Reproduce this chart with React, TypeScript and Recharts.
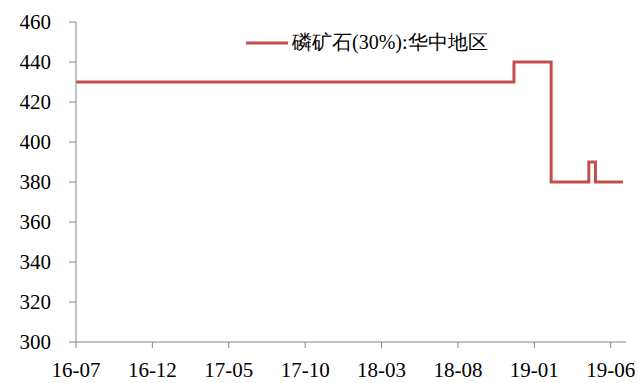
import React from "react"
import { LineChart, Line, XAxis, YAxis, Legend } from "recharts"

// step change dates and price (元/吨)
const changeDates = ["2016-07-01", "2018-11-21", "2019-02-04", "2019-04-18", "2019-05-01", "2019-06-25"]
const prices = [430, 440, 380, 390, 380, 380]

const xTickLabels = ["16-07", "16-12", "17-05", "17-10", "18-03", "18-08", "19-01", "19-06"]
const yTicks = [300, 320, 340, 360, 380, 400, 420, 440, 460]

const seriesName = "磷矿石(30%):华中地区"

// months since 2016-07
function monthIndex(d: string) {
  const [y, m, day] = d.split("-").map(Number)
  return (y - 2016) * 12 + (m - 7) + (day - 1) / 30
}
function labelIndex(l: string) {
  const [yy, mm] = l.split("-").map(Number)
  return (yy - 16) * 12 + (mm - 7)
}

const data = changeDates.map((d, i) => ({ x: monthIndex(d), price: prices[i] }))
const xTicks = xTickLabels.map(labelIndex)

const FONT = "'Times New Roman', 'Liberation Serif', 'DejaVu Serif', serif"
const AXIS = "#868686"
const RED = "#C0504D"

function LegendBox() {
  return (
    <div style={{ display: "flex", alignItems: "center", fontFamily: FONT, fontSize: 20, color: "#000", whiteSpace: "nowrap" }}>
      <svg width={46} height={10}>
        <line x1={0} y1={5} x2={42} y2={5} stroke={RED} strokeWidth={3} />
      </svg>
      <span>{seriesName}</span>
    </div>
  )
}

export default function App() {
  const tickStyle = { fill: "#000", fontSize: 21, fontFamily: FONT }
  return (
    <div style={{ position: "absolute", left: 0, top: 0, width: 638, height: 383, background: "#fff", fontFamily: FONT }}>
      <LineChart width={638} height={383} data={data} margin={{ top: 22, right: 12, bottom: 0, left: 0 }}>
        <XAxis
          type="number"
          dataKey="x"
          domain={[0, 36]}
          ticks={xTicks}
          tickFormatter={(v: number) => xTickLabels[xTicks.indexOf(v)] ?? ""}
          height={41}
          stroke={AXIS}
          tickSize={6}
          tickMargin={14}
          tick={tickStyle}
          interval={0}
        />
        <YAxis
          domain={[300, 460]}
          ticks={yTicks}
          width={76}
          stroke={AXIS}
          tickSize={7}
          tickMargin={18}
          tick={tickStyle}
          interval={0}
        />
        <Legend
          verticalAlign="middle"
          content={() => <LegendBox />}
          wrapperStyle={{ top: 29, left: 246, width: "auto" }}
        />
        <Line
          type="stepAfter"
          dataKey="price"
          name={seriesName}
          stroke={RED}
          strokeWidth={3}
          dot={false}
          isAnimationActive={false}
        />
      </LineChart>
    </div>
  )
}
